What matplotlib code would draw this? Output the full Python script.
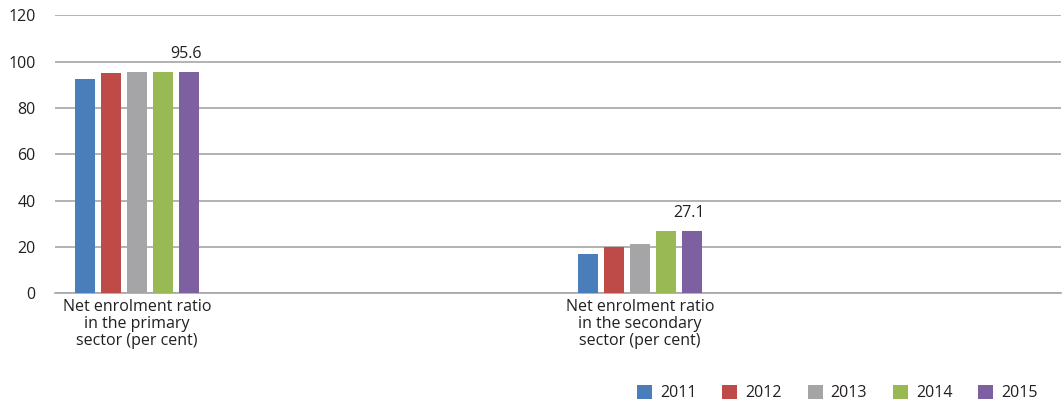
import matplotlib
matplotlib.use("Agg")
import matplotlib.pyplot as plt
import numpy as np

plt.rcParams['font.family'] = ['Open Sans', 'DejaVu Sans']

categories = ["Net enrolment ratio\nin the primary\nsector (per cent)",
              "Net enrolment ratio\nin the secondary\nsector (per cent)"]
years = ["2011", "2012", "2013", "2014", "2015"]
primary = [92.6, 95.0, 95.7, 95.7, 95.6]
secondary = [17.0, 20.1, 21.1, 27.0, 27.1]
colors = ["#4a7ebb", "#be4b48", "#a5a5a8", "#98b954", "#7d60a0"]
text_col = "#231f20"
fs = 11.5

values = np.array([primary, secondary])
centers = np.array([0.163, 1.163])
pitch = 0.0513
width = 0.0398

fig = plt.figure(figsize=(10.64, 4.04), dpi=100)
ax = fig.add_axes([0.0517, 0.274, 0.9455, 0.688])

bars = []
for i, yr in enumerate(years):
    x = centers + (i - 2) * pitch
    b = ax.bar(x, values[:, i], width=width, color=colors[i], label=yr, zorder=3)
    bars.append(b)

# value labels on the last year
for j in range(len(categories)):
    x = centers[j] + 2 * pitch
    v = values[j, -1]
    ax.annotate(f"{v:.1f}", (x, v), xytext=(-2, 10), textcoords="offset points",
                ha="center", va="baseline", fontsize=fs, color=text_col)

ax.set_xlim(0, 2)
ax.set_ylim(0, 120)
ax.set_yticks(np.arange(0, 121, 20))
ax.yaxis.grid(True, color="#a6a6a6", linewidth=1.2, zorder=0)
ax.set_axisbelow(True)
for s in ["left", "right", "top"]:
    ax.spines[s].set_visible(False)
ax.spines["bottom"].set_color("#a6a6a6")
ax.spines["bottom"].set_linewidth(1.2)
ax.tick_params(axis="y", length=0, pad=14, labelsize=fs, labelcolor=text_col)
ax.set_xticks(centers)
ax.set_xticklabels(categories, fontsize=fs, color=text_col, linespacing=1.08)
ax.tick_params(axis="x", length=0, pad=4)

fig.legend(handles=bars, labels=years, loc="center", bbox_to_anchor=(0.787, 0.027),
           ncol=5, frameon=False, fontsize=fs, handlelength=0.95, handleheight=0.95,
           handletextpad=0.5, columnspacing=1.6, labelcolor=text_col)

fig.savefig("out.png", dpi=100)
